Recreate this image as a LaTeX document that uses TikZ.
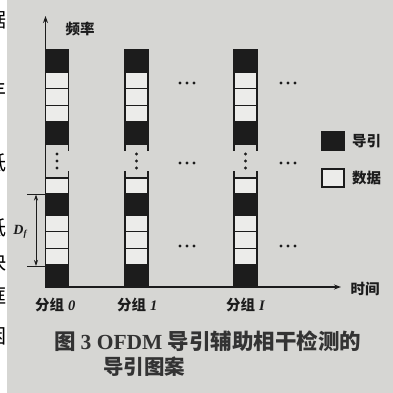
\documentclass[tikz,border=0pt]{standalone}
\usepackage{fontspec}
\setmainfont{Liberation Serif}
\newfontfamily\cjk{Noto Sans CJK SC}
\newfontfamily\lat{Liberation Serif}
\usetikzlibrary{arrows.meta}
\definecolor{bgc}{RGB}{214,214,211}
\definecolor{ink}{RGB}{28,28,28}
\definecolor{cellc}{RGB}{236,236,234}
\tikzset{
  pilot/.style={fill=ink,draw=ink,line width=1.4pt},
  datac/.style={fill=cellc,draw=ink,line width=1.4pt},
  rail/.style={draw=ink,line width=1.4pt},
  axisline/.style={draw=ink,line width=1.2pt},
  dimline/.style={draw=ink,line width=0.9pt},
  lbl/.style={font=\cjk\bfseries\fontsize{14.5}{14.5}\selectfont,text=ink,inner sep=0pt},
  captext/.style={font=\cjk\bfseries\fontsize{21.5}{21.5}\selectfont,text=ink!90,inner sep=0pt},
  edgechar/.style={font=\cjk\fontsize{20}{20}\selectfont,text=black,inner sep=0pt},
  dotc/.style={fill=ink}
}
\begin{document}
\begin{tikzpicture}[x=1pt,y=-1pt]
\useasboundingbox (0,0) rectangle (393,393);
\fill[bgc] (0,0) rectangle (393,393);
\fill[white] (0,0) rectangle (7,393);
\begin{scope}
\clip (0,0) rectangle (7,393);
\node[edgechar] (e1) at (-3,20) {据};
\node[edgechar] (e2) at (-3,56) {，};
\node[edgechar] (e3) at (-3,90) {丰};
\node[edgechar] (e4) at (-3,124) {）};
\node[edgechar] (e5) at (-3,163) {低};
\node[edgechar] (e6) at (-3,192) {，};
\node[edgechar] (e7) at (-3,228) {低};
\node[edgechar] (e8) at (-3,262) {快};
\node[edgechar] (e9) at (-3,296) {框};
\node[edgechar] (e10) at (-3,336) {困};
\end{scope}

% columns
\foreach \cx in {45.5,125,234} {
  \fill[pilot] (\cx,50) rectangle ++(23,22);
  \draw[datac] (\cx,72) rectangle ++(23,16.67);
  \draw[datac] (\cx,88.67) rectangle ++(23,16.67);
  \draw[datac] (\cx,105.33) rectangle ++(23,16.67);
  \fill[pilot] (\cx,122) rectangle ++(23,22);
  \draw[rail] (\cx,144) -- ++(0,7);
  \draw[rail] (\cx+23,144) -- ++(0,7);
  \fill[dotc] (\cx+11.5,154) circle (1.7);
  \fill[dotc] (\cx+11.5,161) circle (1.7);
  \fill[dotc] (\cx+11.5,168) circle (1.7);
  \draw[rail] (\cx,171) -- ++(0,7);
  \draw[rail] (\cx+23,171) -- ++(0,7);
  \draw[datac] (\cx,178) rectangle ++(23,16);
  \fill[pilot] (\cx,194) rectangle ++(23,21);
  \draw[datac] (\cx,215) rectangle ++(23,16.67);
  \draw[datac] (\cx,231.67) rectangle ++(23,16.67);
  \draw[datac] (\cx,248.33) rectangle ++(23,16.67);
  \fill[pilot] (\cx,265) rectangle ++(23,22);
}

% horizontal ellipses
\foreach \dx in {180,281} {
  \foreach \dy in {83,163,246} {
    \foreach \k in {0,7,14} {
      \fill[dotc] (\dx+\k,\dy) circle (1.7);
    }
  }
}

% axes
\coordinate (o) at (45.5,287);
\coordinate (ytop) at (45.5,16);
\coordinate (xend) at (341,287);
\draw[axisline,-{Stealth[length=7pt,width=5pt]}] (o) -- (ytop);
\draw[axisline,-{Stealth[length=7pt,width=5pt]}] (o) -- (xend);
\node[lbl] (freq) at (80,29) {频率};
\node[lbl] (time) at (365,289) {时间};

% D_f dimension
\coordinate (d1l) at (27,194.5);
\coordinate (d1r) at (45.5,194.5);
\coordinate (d2l) at (27,266);
\coordinate (d2r) at (45.5,266);
\coordinate (d1) at (36,194.5);
\coordinate (d2) at (36,266);
\draw[dimline] (d1l) -- (d1r);
\draw[dimline] (d2l) -- (d2r);
\draw[dimline,{Stealth[length=6pt,width=4pt]}-{Stealth[length=6pt,width=4pt]}] (d1) -- (d2);
\node[inner sep=0pt,text=ink] (df) at (20,232) {\lat\bfseries\itshape\fontsize{14}{14}\selectfont D\raisebox{-2.5pt}{\fontsize{9}{9}\selectfont f}};

% legend
\fill[pilot] (322,132) rectangle (344,150);
\draw[datac] (322,169) rectangle (344,187);
\node[lbl,anchor=west] (lp) at (352,141) {导引};
\node[lbl,anchor=west] (ld) at (352,178) {数据};

% group labels
\node[lbl,anchor=west] (g0) at (35,305) {分组\hspace{4pt}{\lat\bfseries\itshape 0}};
\node[lbl,anchor=west] (g1) at (117,305) {分组\hspace{4pt}{\lat\bfseries\itshape 1}};
\node[lbl,anchor=west] (g2) at (226,305) {分组\hspace{4pt}{\lat\bfseries\itshape I}};

% caption
\node[captext,anchor=west] (c1) at (54,341) {图\hspace{5pt}{\lat\bfseries 3 OFDM}\hspace{5pt}导引辅助相干检测的};
\node[captext,anchor=west,font=\cjk\bfseries\fontsize{20.5}{20.5}\selectfont] (c2) at (103,367) {导引图案};
\end{tikzpicture}
\end{document}
